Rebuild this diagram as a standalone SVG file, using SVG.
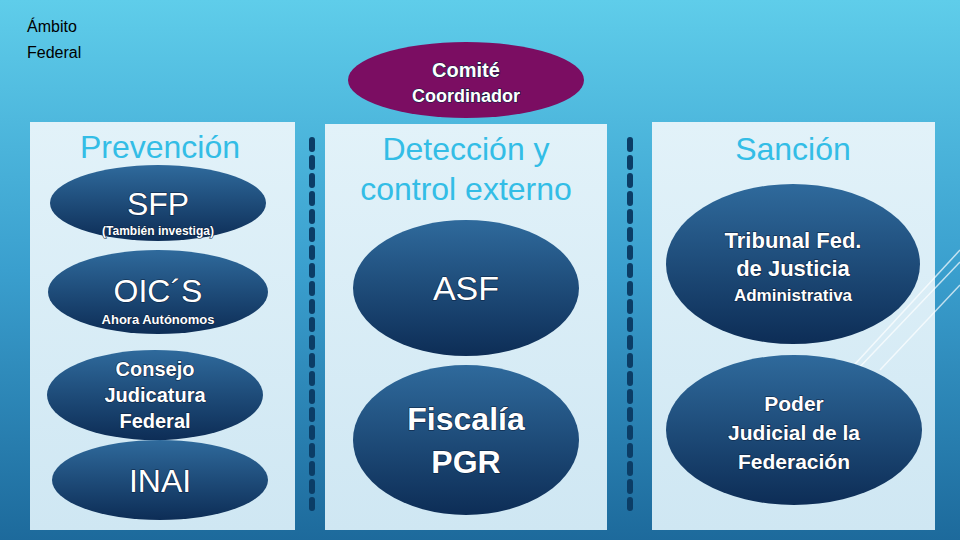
<svg xmlns="http://www.w3.org/2000/svg" width="960" height="540" viewBox="0 0 960 540">
<defs>
<linearGradient id="bg" x1="0" y1="0" x2="0" y2="1"><stop offset="0" stop-color="#5fcdea"/><stop offset="0.5" stop-color="#3a9fce"/><stop offset="1" stop-color="#1d6a9c"/></linearGradient>
<linearGradient id="ov" x1="0" y1="0" x2="0" y2="1"><stop offset="0" stop-color="#2f6a9c"/><stop offset="1" stop-color="#0d2d56"/></linearGradient>
<linearGradient id="pn" x1="0" y1="0" x2="0" y2="1"><stop offset="0" stop-color="#e2f2f9"/><stop offset="1" stop-color="#cfe7f3"/></linearGradient>
</defs>
<style>
.pn{fill:url(#pn)}
.ov{fill:url(#ov)}
text{font-family:"Liberation Sans",sans-serif}
.b{font-weight:bold}
.t{fill:#fff;text-anchor:middle;stroke:#0b2240;stroke-width:1.2;paint-order:stroke}
.h{fill:#33bde6;text-anchor:middle;font-size:32px}
.d{stroke:#0b3d66;stroke-width:6;stroke-dasharray:9 9;stroke-linecap:round;fill:none}
</style>
<rect width="960" height="540" fill="url(#bg)"/>
<text x="27" y="32" font-size="16" fill="#000">Ámbito</text>
<text x="27" y="58" font-size="16" fill="#000">Federal</text>
<rect class="pn" x="30" y="122" width="265" height="408"/>
<rect class="pn" x="325" y="124" width="282" height="406"/>
<rect class="pn" x="652" y="122" width="283" height="408"/>
<g stroke="#fff" stroke-opacity="0.7" stroke-width="1.5"><line x1="845" y1="375" x2="960" y2="250"/><line x1="880" y1="370" x2="960" y2="285"/><line x1="855" y1="372" x2="960" y2="262"/></g>
<g id="connectors"><line class="d" x1="312" y1="140" x2="312" y2="508"/><line class="d" x1="630" y1="140" x2="630" y2="508"/></g>
<g id="comite"><ellipse cx="466" cy="80" rx="118" ry="38" fill="#7b0d62"/><text class="t b" x="466" y="77" font-size="20">Comité</text><text class="t b" x="466" y="102" font-size="18">Coordinador</text></g>
<text class="h" x="160" y="158">Prevención</text>
<text class="h" x="466" y="160">Detección y</text>
<text class="h" x="466" y="200">control externo</text>
<text class="h" x="793" y="160">Sanción</text>
<g id="sfp"><ellipse class="ov" cx="158" cy="203" rx="108" ry="38"/><text class="t" x="158" y="215" font-size="32">SFP</text><text class="t b" x="158" y="235" font-size="12">(También investiga)</text></g>
<g id="oics"><ellipse class="ov" cx="158" cy="292" rx="110" ry="42"/><text class="t" x="158" y="302" font-size="32">OIC´S</text><text class="t b" x="158" y="324" font-size="13">Ahora Autónomos</text></g>
<g id="consejo"><ellipse class="ov" cx="155" cy="395" rx="108" ry="45"/><text class="t b" x="155" y="376" font-size="20">Consejo</text><text class="t b" x="155" y="402" font-size="20">Judicatura</text><text class="t b" x="155" y="428" font-size="20">Federal</text></g>
<g id="inai"><ellipse class="ov" cx="160" cy="480" rx="108" ry="40"/><text class="t" x="160" y="492" font-size="32">INAI</text></g>
<g id="asf"><ellipse class="ov" cx="466" cy="288" rx="113" ry="68"/><text class="t" x="466" y="300" font-size="34">ASF</text></g>
<g id="fiscalia"><ellipse class="ov" cx="466" cy="440" rx="113" ry="75"/><text class="t b" x="466" y="430" font-size="32">Fiscalía</text><text class="t b" x="466" y="473" font-size="32">PGR</text></g>
<g id="tribunal"><ellipse class="ov" cx="793" cy="264" rx="127" ry="80"/><text class="t b" x="793" y="248" font-size="22">Tribunal Fed.</text><text class="t b" x="793" y="276" font-size="22">de Justicia</text><text class="t b" x="793" y="301" font-size="17">Administrativa</text></g>
<g id="poder"><ellipse class="ov" cx="794" cy="430" rx="128" ry="75"/><text class="t b" x="794" y="411" font-size="21">Poder</text><text class="t b" x="794" y="440" font-size="21">Judicial de la</text><text class="t b" x="794" y="469" font-size="21">Federación</text></g>
</svg>
